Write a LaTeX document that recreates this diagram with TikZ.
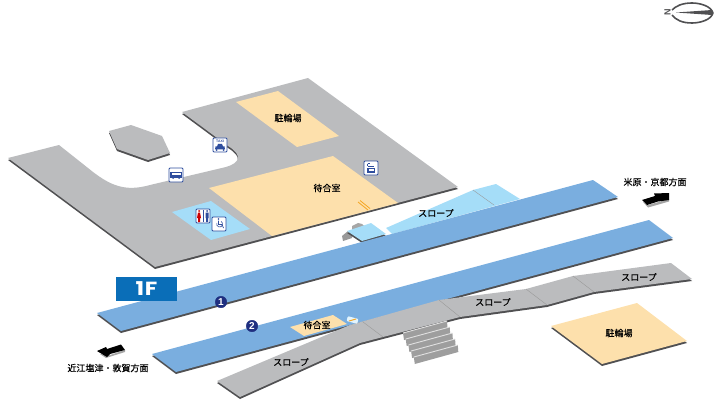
\documentclass[tikz,border=0pt]{standalone}
\usepackage{fontspec}
\setsansfont{Liberation Sans}
\newfontfamily\jpfont[FakeBold=0.3]{Noto Sans CJK JP}
\newfontfamily\tagfont[FakeStretch=1.2,LetterSpace=3]{Poppins}
\usetikzlibrary{positioning}

\definecolor{floorgray}{HTML}{BBBCBE}
\definecolor{edgegray}{HTML}{505052}
\definecolor{roomyellow}{HTML}{FDE0AC}
\definecolor{paleblue}{HTML}{A5DDF8}
\definecolor{trackblue}{HTML}{7AAEDF}
\definecolor{signblue}{HTML}{2F4E9E}
\definecolor{floorblue}{HTML}{0A6EB8}
\definecolor{badgeblue}{HTML}{1F2F80}
\definecolor{markorange}{HTML}{F5A623}

\newcommand{\slab}[2]{%
    \fill [edgegray, yshift=-2pt] #2 -- cycle;
    \fill [#1] #2 -- cycle;}

\begin{document}
\begin{tikzpicture}[x=1pt, y=-1pt,
    txt/.style={font=\jpfont\fontsize{9}{9}\selectfont, inner sep=0pt, text=black},
    sign/.style={draw=signblue, fill=white, line width=0.9pt, rounded corners=1pt, minimum size=14pt, inner sep=0pt},
    badge/.style={circle, fill=badgeblue, draw=badgeblue, text=white, minimum size=11.5pt, inner sep=0pt, font=\sffamily\bfseries\fontsize{10}{10}\selectfont},
    divide/.style={draw=black!40, line width=0.4pt}]
    \useasboundingbox (0,0) rectangle (720,401);

    % Station building floor
    \slab{floorgray}{(8,158) -- (59,145) -- (88,168) .. controls (110,186) and (125,192) .. (150,185) -- (226,167) .. controls (240,163) and (243,155) .. (228,146) -- (182,112) -- (308,78) -- (458,187) -- (155,267)}
    \slab{floorgray}{(109,131) -- (131,125) -- (162,136) -- (170,153) -- (148,160) -- (117,149)}
    \fill [roomyellow] (236,102) -- (278,91) -- (339,136) -- (297,147) -- cycle;
    \fill [roomyellow] (209,188) -- (333,156) -- (398,203) -- (272,236) -- cycle;
    \fill [paleblue] (172,212) -- (211,201) -- (250,229) -- (211,240) -- cycle;

    % Upper slope and small landing
    \fill [paleblue] (386,228) -- (473,190) -- (496,184) -- (520,199) -- (392,234) -- cycle;
    \draw [divide] (473,190) -- (494,205);
    \fill [black!40] (342,236) -- (348,231) -- (353,233) -- (352,238) -- (343,241) -- cycle;
    \fill [black!35] (352,226) -- (358,223) -- (362,224) -- (365,227) -- (352,230) -- cycle;
    \slab{paleblue}{(347,231) -- (371,223) -- (386,234) -- (362,241)}

    % Platforms
    \slab{trackblue}{(97,313) -- (593,180) -- (618,197) -- (121,331)}
    \slab{trackblue}{(152,354) -- (649,220) -- (673,238) -- (176,372)}

    % Lower slope
    \slab{floorgray}{(217,381) -- (350,325) -- (439,300) -- (526,289) -- (573,276) -- (671,263) -- (692,279) -- (594,292) -- (547,305) -- (460,317) -- (383,337) -- (360,343) -- (240,397)}
    \draw [divide] (363,322) -- (383,337);
    \draw [divide] (439,300) -- (460,317);
    \draw [divide] (526,289) -- (547,305);
    \draw [divide] (573,276) -- (594,292);

    % Steps
    \foreach \i in {0,...,4} {
        \fill [black!38] (403+2.7*\i,333+6*\i) -- (447+2.7*\i,321+6*\i) -- (447.5+2.7*\i,328+6*\i) -- (404+2.7*\i,340+6*\i) -- cycle;
        \draw [black!12, line width=0.9pt] (403+2.7*\i,333+6*\i) -- (447+2.7*\i,321+6*\i);
    }

    % Lower bicycle parking and waiting room
    \slab{roomyellow}{(551,326) -- (637,303) -- (687,341) -- (602,364)}
    \fill [roomyellow] (290,327) -- (333,315) -- (347,324) -- (304,336) -- cycle;

    % Marks
    \fill [white!70!paleblue, rotate around={-15:(352.5,320)}, rounded corners=1pt] (347,317.5) rectangle (358,322.5);
    \draw [markorange, line width=1pt] (349,321) -- (356,319);
    \draw [markorange, line width=0.8pt] (358,202) -- (368,210);
    \draw [markorange, line width=0.8pt] (360,200.5) -- (370,208.5);

    % Direction arrows
    \fill [black!35] (100,354) -- (110,355) -- (125,350) -- (125,352) -- (106,358) -- cycle;
    \fill [black] (97,351) -- (106,347) -- (107,349) -- (121,344.5) -- (125,350) -- (110,354) -- (107,357) -- cycle;
    \fill [black!35] (643,202) -- (648,205) -- (669,199) -- (669,201.5) -- (648,207.5) -- cycle;
    \fill [black] (642,200) -- (655,196) -- (654,193.5) -- (669,193) -- (669,200) -- (658,201.5) -- (647,205) -- cycle;

    % Compass
    \draw [edgegray, line width=1.6pt] (713,13) .. controls (711,6) and (700,3) .. (692,3) .. controls (682,3) and (676,6) .. (672,10);
    \draw [edgegray, line width=1.6pt] (713,13) .. controls (711,20) and (700,23) .. (692,23) .. controls (682,23) and (676,20) .. (672,15);
    \fill [edgegray] (676,12.5) -- (712,10) -- (712,15) -- cycle;
    \node [font=\sffamily\bfseries\fontsize{9}{9}\selectfont, rotate=90, inner sep=0pt, text=edgegray] (north) at (667.5,12.5) {N};

    % Floor tag
    \node [fill=floorblue, text=white, minimum width=61pt, minimum height=24pt, inner sep=0pt,
           font=\tagfont\bfseries\fontsize{19}{19}\selectfont] (floortag) at (146.5,289) {1F};

    % Platform numbers
    \node [badge] (one) at (221,302) {1};
    \node [badge] (two) at (252,326) {2};

    % Labels
    \node [txt] (bikes)    at (288,118) {駐輪場};
    \node [txt] (waiting)  at (327,188) {待合室};
    \node [txt] (slopeup)  at (436,213) {スロープ};
    \node [txt] (east)     at (655,182) {米原・京都方面};
    \node [txt] (west)     at (108,368) {近江塩津・敦賀方面};
    \node [txt] (waitingb) at (317,325) {待合室};
    \node [txt] (slopea)   at (291,362) {スロープ};
    \node [txt] (slopeb)   at (493,302) {スロープ};
    \node [txt] (slopec)   at (639,277) {スロープ};
    \node [txt] (bikesb)   at (619,333) {駐輪場};

    % Signs
    \node [sign] (bus) at (176,175) {};
    \fill [signblue] (170,172) rectangle (182,177.5);
    \fill [white] (171.5,173) rectangle (180.5,175);
    \fill [signblue] (173,178) circle (1) (179,178) circle (1);

    \node [sign] (taxi) at (220,145) {};
    \node [font=\sffamily\bfseries\fontsize{3.5}{3.5}\selectfont, text=signblue, inner sep=0pt] (taxitext) at (220,141) {TAXI};
    \fill [signblue] (215,149.5) -- (215.5,146.5) -- (217,146.5) -- (218,144) -- (222,144) -- (223,146.5) -- (224.5,146.5) -- (225,149.5) -- cycle;
    \fill [signblue] (216.5,150) circle (1) (223.5,150) circle (1);

    \node [sign] (wc) at (203,216) {};
    \fill [red!80!black] (199,211) circle (1) (198,212.5) -- (200,212.5) -- (201,218) -- (200,218) -- (200,222) -- (198,222) -- (198,218) -- (197,218) -- cycle;
    \draw [signblue, line width=0.5pt] (203,210) -- (203,222);
    \fill [signblue] (207,211) circle (1) (205.5,212.5) rectangle (208.5,218) (206,218) rectangle (208,222);

    \node [sign] (access) at (219,224) {};
    \fill [signblue] (218.5,219) circle (0.9);
    \draw [signblue, line width=0.7pt] (218.5,220.5) -- (218.5,224.5) -- (222,224.5) -- (223.5,228);
    \draw [signblue, line width=0.6pt] (216.8,223) arc (200:-60:3);

    \node [sign] (ticket) at (371,168) {};
    \draw [signblue, line width=0.7pt] (367.5,163.5) -- (369.5,163.5) (367.5,163.5) -- (367.5,166) (367.5,166) -- (374,166);
    \fill [signblue] (367,168) rectangle (375,172.5);
    \fill [white] (368.5,169) rectangle (373.5,170.5);
\end{tikzpicture}
\end{document}
